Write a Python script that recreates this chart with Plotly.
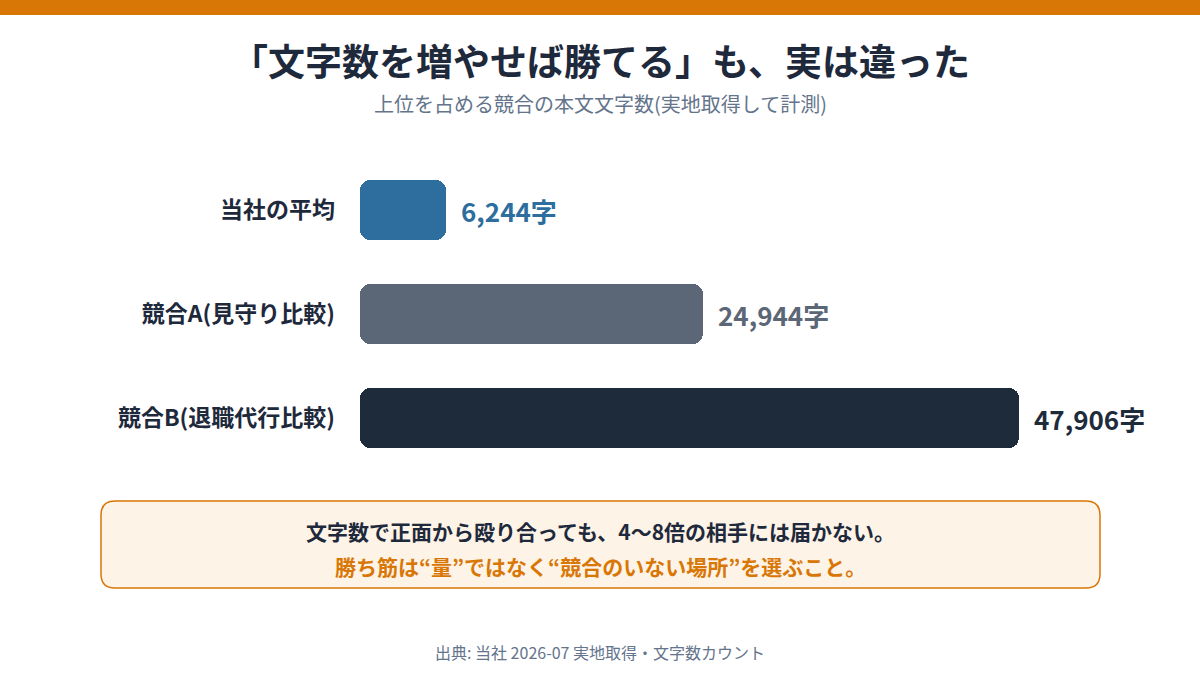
import plotly.graph_objects as go

categories = ["当社の平均", "競合A(見守り比較)", "競合B(退職代行比較)"]
values = [6244, 24944, 47906]
value_labels = ["6,244字", "24,944字", "47,906字"]
bar_colors = ["#2E6E9E", "#5B6676", "#1E2B3B"]
label_colors = ["#2E6E9E", "#5B6676", "#1E2B3B"]

title_text = "「文字数を増やせば勝てる」も、実は違った"
subtitle_text = "上位を占める競合の本文文字数(実地取得して計測)"
callout_line1 = "文字数で正面から殴り合っても、4〜8倍の相手には届かない。"
callout_line2 = "勝ち筋は“量”ではなく“競合のいない場所”を選ぶこと。"
source_text = "出典: 当社 2026-07 実地取得・文字数カウント"

W, H = 1200, 675
FONT = "Noto Sans CJK JP"
DARK = "#1E293B"
GREY = "#64748B"
ORANGE = "#D97706"

fig = go.Figure()

fig.add_trace(go.Bar(
    y=categories, x=values, base=[0] * len(values), orientation="h",
    marker=dict(color=bar_colors, line=dict(width=0), cornerradius=10),
    width=0.577, hoverinfo="skip", showlegend=False,
))

px_per_unit = 659 / 47906
x_max = 840 / px_per_unit

annotations = []
for c, v, lab, col in zip(categories, values, value_labels, label_colors):
    annotations.append(dict(
        x=v, y=c, xref="x", yref="y", text=f"<b>{lab}</b>", showarrow=False,
        xanchor="left", yanchor="middle", xshift=13,
        font=dict(family=FONT, size=26, color=col),
    ))

def py(p):
    return 1 - p / H

annotations += [
    dict(x=0.5, y=py(60), xref="paper", yref="paper", text=f"<b>{title_text}</b>",
         showarrow=False, xanchor="center", yanchor="middle",
         font=dict(family=FONT, size=37, color=DARK)),
    dict(x=0.5, y=py(103), xref="paper", yref="paper", text=subtitle_text,
         showarrow=False, xanchor="center", yanchor="middle",
         font=dict(family=FONT, size=20, color=GREY)),
    dict(x=0.5, y=py(531), xref="paper", yref="paper", text=f"<b>{callout_line1}</b>",
         showarrow=False, xanchor="center", yanchor="middle",
         font=dict(family=FONT, size=21, color=DARK)),
    dict(x=0.5, y=py(566), xref="paper", yref="paper", text=f"<b>{callout_line2}</b>",
         showarrow=False, xanchor="center", yanchor="middle",
         font=dict(family=FONT, size=21, color=ORANGE)),
    dict(x=0.5, y=py(652), xref="paper", yref="paper", text=source_text,
         showarrow=False, xanchor="center", yanchor="middle",
         font=dict(family=FONT, size=16, color=GREY)),
]

def rrect(x0, y0, x1, y1, r):
    X = lambda p: p / W
    Y = lambda p: 1 - p / H
    return (f"M {X(x0+r)},{Y(y0)} L {X(x1-r)},{Y(y0)} Q {X(x1)},{Y(y0)} {X(x1)},{Y(y0+r)} "
            f"L {X(x1)},{Y(y1-r)} Q {X(x1)},{Y(y1)} {X(x1-r)},{Y(y1)} "
            f"L {X(x0+r)},{Y(y1)} Q {X(x0)},{Y(y1)} {X(x0)},{Y(y1-r)} "
            f"L {X(x0)},{Y(y0+r)} Q {X(x0)},{Y(y0)} {X(x0+r)},{Y(y0)} Z")

shapes = [
    dict(type="rect", xref="paper", yref="paper", x0=0, x1=1, y0=1 - 15 / H, y1=1,
         fillcolor=ORANGE, line=dict(width=0), layer="below"),
    dict(type="path", xref="paper", yref="paper", path=rrect(101, 501, 1100, 588, 14),
         fillcolor="#FDF3E7", line=dict(color=ORANGE, width=1.5), layer="below"),
]

top_px, bot_px = 158, 470
fig.update_layout(
    width=W, height=H, margin=dict(l=0, r=0, t=0, b=0),
    paper_bgcolor="white", plot_bgcolor="white",
    barmode="overlay", bargap=0,
    showlegend=False,
    xaxis=dict(domain=[0.3, 1.0], range=[0, x_max], visible=False, fixedrange=True),
    yaxis=dict(domain=[1 - bot_px / H, 1 - top_px / H], range=[2.5, -0.5],
               type="category", showgrid=False, zeroline=False, showline=False,
               ticks="", ticklabelstandoff=24, fixedrange=True,
               tickfont=dict(family=FONT, size=23, color=DARK),
               tickvals=categories, ticktext=[f"<b>{c}</b>" for c in categories]),
    annotations=annotations, shapes=shapes,
    font=dict(family=FONT),
)

fig.write_html("out.html", config={"displayModeBar": False},
               post_script="document.body.style.margin='0';document.body.style.overflow='hidden';")
